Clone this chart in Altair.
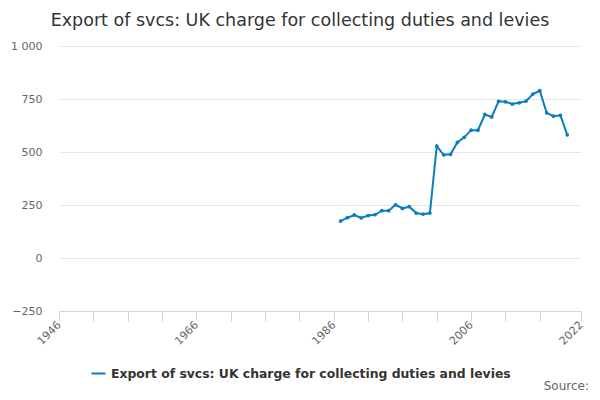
import altair as alt
import pandas as pd

series_name = "Export of svcs: UK charge for collecting duties and levies"
years = list(range(1987, 2021))
values = [174, 190, 203, 189, 200, 204, 223, 223, 251, 234, 242, 212, 207, 212,
          528, 487, 489, 545, 569, 603, 603, 677, 665, 739, 737, 726, 732, 740,
          773, 789, 685, 669, 673, 581]
x_ticks = [1946, 1951, 1956, 1961, 1966, 1971, 1976, 1981, 1986, 1991, 1996,
           2001, 2006, 2011, 2016, 2022]
x_labels = [1946, 1966, 1986, 2006, 2022]
y_ticks = [-250, 0, 250, 500, 750, 1000]

df = pd.DataFrame({"year": years, "value": values, "series": series_name})

color = "#0b7cc1"
label_test = " || ".join(f"datum.value == {v}" for v in x_labels)

line = alt.Chart(df).mark_line(
    strokeWidth=2, point=alt.OverlayMarkDef(size=14, filled=True)
).encode(
    x=alt.X("year:Q",
            scale=alt.Scale(domain=[1946, 2022], nice=False, zero=False),
            axis=alt.Axis(title=None, values=x_ticks, grid=False,
                          domainColor="#ccd6eb", tickColor="#ccd6eb", tickSize=10,
                          labelAngle=315, labelAlign="right", labelBaseline="middle",
                          labelPadding=2, labelFontSize=11, labelColor="#666666",
                          labelOverlap=False,
                          labelExpr=f"({label_test}) ? format(datum.value, 'd') : ''")),
    y=alt.Y("value:Q",
            scale=alt.Scale(domain=[-250, 1000], nice=False, zero=False),
            axis=alt.Axis(title=None, values=y_ticks, domain=False, ticks=False,
                          gridColor="#e6e6e6", labelPadding=17, labelFontSize=11,
                          labelColor="#666666",
                          labelExpr="replace(format(datum.value, ','), ',', ' ')")),
    color=alt.Color("series:N",
                    scale=alt.Scale(domain=[series_name], range=[color]),
                    legend=alt.Legend(title=None, orient="none", legendX=31, legendY=319,
                                      symbolType="stroke", symbolStrokeWidth=2,
                                      symbolSize=200, labelFontSize=12.4,
                                      labelFontWeight="bold", labelColor="#333333",
                                      labelFont="DejaVu Sans", labelLimit=0)),
)

source_df = pd.DataFrame({"t": ["Source:"]})
source = alt.Chart(source_df).mark_text(
    align="right", baseline="alphabetic", fontSize=12, color="#666666", font="DejaVu Sans"
).encode(x=alt.value(530), y=alt.value(344), text="t:N")

chart = alt.layer(line, source).properties(
    width=522, height=265,
    title=alt.TitleParams(series_name, fontSize=17.5, font="DejaVu Sans", fontWeight="normal",
                          color="#333333", anchor="middle", dx=-20, offset=11),
    autosize=alt.AutoSizeParams(type="none"),
    padding={"left": 51, "top": 38, "right": 11, "bottom": 81},
).configure(font="DejaVu Sans").configure_view(stroke=None)

chart.save("out.html", embed_options={"renderer": "svg", "actions": False})
